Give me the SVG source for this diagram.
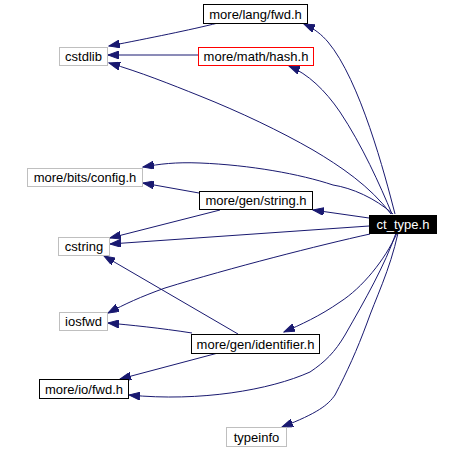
<svg xmlns="http://www.w3.org/2000/svg" width="460" height="449" viewBox="0 0 460 449">
<style>
.n rect{fill:#fff;stroke:#000;stroke-width:1}
.n.g rect{stroke:#bfbfbf}
.n.r rect{stroke:#ff0000}
.n.b rect{fill:#000}
.n text{font-family:"Liberation Sans",Arial,sans-serif;font-size:13px;text-anchor:middle;fill:#000}
.n.b text{fill:#fff}
#edges path{fill:none;stroke:#191970;stroke-width:1;marker-end:url(#ah)}
</style>
<defs>
<marker id="ah" markerUnits="userSpaceOnUse" markerWidth="12" markerHeight="8" refX="11" refY="4" orient="auto">
<path d="M0,0 L11,4 L0,8 z" fill="#191970" stroke="#191970"/>
</marker>
</defs>
<rect width="460" height="449" fill="#fff"/>
<g id="edges">
<path d="M395,214 C385,175 360,80 328,42 C322,35 315,29 304,24"/>
<path d="M392,214 C380,185 362,145 340,112 C325,90 308,74 289,66"/>
<path d="M391,214 C370,186 340,166 313,150 C280,131 240,112 200,96 C170,84 140,72 109,63"/>
<path d="M393,214 C375,198 352,188 333,185 C300,174 250,165 200,163 C175,162 160,164 143,167"/>
<path d="M369,218 L313,210"/>
<path d="M369,226 L110,244"/>
<path d="M370,234 C320,245 230,268 165,288 C140,297 125,304 108,313"/>
<path d="M397,233 C385,260 362,288 340,302 C320,316 300,325 284,332"/>
<path d="M396,233 C385,265 365,300 345,335 C335,352 325,362 310,372 C270,390 200,402 129,395"/>
<path d="M398,233 C390,270 375,300 367,323 C357,350 347,372 335,395 C328,405 318,413 282,427"/>
<path d="M218,23 C190,30 150,38 109,46"/>
<path d="M198,55 L108,55"/>
<path d="M199,193 L143,183"/>
<path d="M220,210 L110,238"/>
<path d="M238,334 L104,256"/>
<path d="M192,333 C160,328 130,325 108,323"/>
<path d="M218,353 L120,379"/>
</g>
<g id="n_lang_fwd" class="n"><rect x="203.5" y="4.5" width="104" height="19"/><text x="255.5" y="18.5">more/lang/fwd.h</text></g>
<g id="n_cstdlib" class="n g"><rect x="59.5" y="47.5" width="48" height="18"/><text x="83.5" y="61">cstdlib</text></g>
<g id="n_math_hash" class="n r"><rect x="198.5" y="47.5" width="115" height="18"/><text x="256" y="61">more/math/hash.h</text></g>
<g id="n_bits_config" class="n g"><rect x="27.5" y="168.5" width="115" height="18"/><text x="85" y="182">more/bits/config.h</text></g>
<g id="n_gen_string" class="n"><rect x="199.5" y="191.5" width="113" height="18"/><text x="256" y="205">more/gen/string.h</text></g>
<g id="n_ct_type" class="n b"><rect x="369.5" y="215.5" width="67" height="18"/><text x="403" y="229">ct_type.h</text></g>
<g id="n_cstring" class="n g"><rect x="58.5" y="237.5" width="51" height="18"/><text x="84" y="251">cstring</text></g>
<g id="n_iosfwd" class="n g"><rect x="59.5" y="312.5" width="48" height="18"/><text x="83.5" y="326">iosfwd</text></g>
<g id="n_gen_identifier" class="n"><rect x="191.5" y="334.5" width="128" height="19"/><text x="255.5" y="348.5">more/gen/identifier.h</text></g>
<g id="n_io_fwd" class="n"><rect x="39.5" y="379.5" width="89" height="19"/><text x="84" y="394">more/io/fwd.h</text></g>
<g id="n_typeinfo" class="n g"><rect x="226.5" y="427.5" width="60" height="19"/><text x="256.5" y="442">typeinfo</text></g>
</svg>
